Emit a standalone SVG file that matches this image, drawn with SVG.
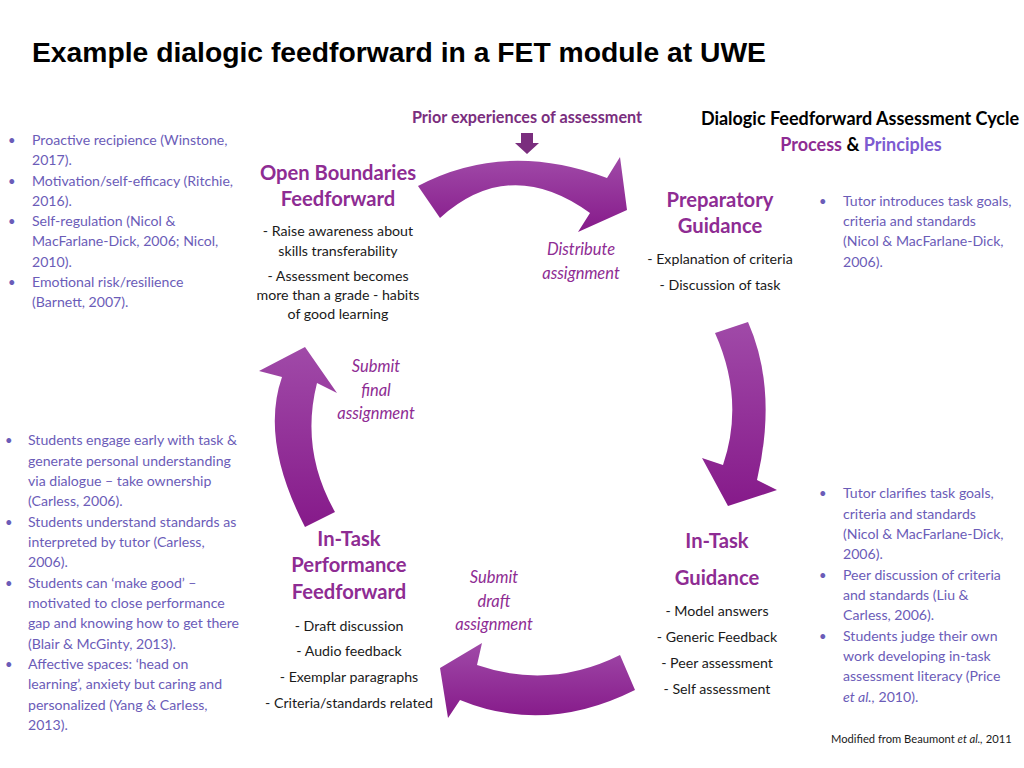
<svg xmlns="http://www.w3.org/2000/svg" width="1024" height="768" viewBox="0 0 1024 768">
<style>
.title{font-family:"Liberation Sans",Arial,sans-serif;font-weight:bold;font-size:28px;fill:#000}
.f{font-family:Lato,"Open Sans",sans-serif}
.head{font-family:Lato,sans-serif;font-weight:bold;font-size:20.2px;fill:#8E2C93;text-anchor:middle}
.body{font-family:Lato,sans-serif;font-size:14.2px;fill:#1a1a1a;text-anchor:middle}
.lab{font-family:Lato,sans-serif;font-style:italic;font-size:16.5px;fill:#8E2C93;text-anchor:middle}
.bul{font-family:Lato,sans-serif;font-size:14.1px;fill:#6B5CB8}
.dot{font-family:Lato,sans-serif;font-size:13px;fill:#6B5CB8}
.arrow{fill:url(#g)}
</style>
<defs>
<linearGradient id="g" x1="0" y1="0" x2="0" y2="1">
<stop offset="0" stop-color="#A04AA8"/>
<stop offset="1" stop-color="#861A8A"/>
</linearGradient>
</defs>
<rect width="1024" height="768" fill="#fff"/>
<text class="title" x="32" y="62" textLength="734" lengthAdjust="spacingAndGlyphs">Example dialogic feedforward in a FET module at UWE</text>

<g id="connectors">
<path class="arrow" d="M418,186 Q505,140 607,178 L620,157 L627,210 L578,232 L590,213 Q510,155 440,218 Z"/>
<path class="arrow" d="M715,333 Q745,400 723,465 L702,458 L728,506 L777,490 L757,480 Q778,390 748,322 Z"/>
<path class="arrow" d="M440,668 L482,643 L477,665 Q550,690 620,655 L635,690 Q545,735 460,700 L448,718 Z"/>
<path class="arrow" d="M305,347 L337,393 L317,383 Q300,450 335,512 L305,527 Q260,440 282,377 L259,371 Z"/>
<path d="M521,133 H533 V143 H539 L527,154 L515,143 H521 Z" fill="#7A2E7E"/>
</g>

<g id="header">
<text class="f" x="527" y="123" text-anchor="middle" font-weight="bold" font-size="16.2" fill="#7A2E7E">Prior experiences of assessment</text>
<text class="f" x="860" y="125" text-anchor="middle" font-weight="bold" font-size="18" fill="#000">Dialogic Feedforward Assessment Cycle</text>
<text class="f" x="861" y="151" text-anchor="middle" font-weight="bold" font-size="18"><tspan fill="#8E2C93">Process</tspan><tspan fill="#000"> &amp; </tspan><tspan fill="#7D5BD1">Principles</tspan></text>
</g>

<g id="open-boundaries">
<text class="head" x="338" y="180">Open Boundaries</text>
<text class="head" x="338" y="206">Feedforward</text>
<text class="body" x="338" y="236">- Raise awareness about</text>
<text class="body" x="338" y="256">skills transferability</text>
<text class="body" x="338" y="281">- Assessment becomes</text>
<text class="body" x="338" y="300">more than a grade - habits</text>
<text class="body" x="338" y="319">of good learning</text>
</g>

<g id="preparatory-guidance">
<text class="head" x="720" y="207">Preparatory</text>
<text class="head" x="720" y="233">Guidance</text>
<text class="body" x="720" y="264">- Explanation of criteria</text>
<text class="body" x="720" y="290">- Discussion of task</text>
</g>

<g id="in-task-guidance">
<text class="head" x="717" y="548">In-Task</text>
<text class="head" x="717" y="585">Guidance</text>
<text class="body" x="717" y="616">- Model answers</text>
<text class="body" x="717" y="642">- Generic Feedback</text>
<text class="body" x="717" y="668">- Peer assessment</text>
<text class="body" x="717" y="694">- Self assessment</text>
</g>

<g id="in-task-performance">
<text class="head" x="349" y="546">In-Task</text>
<text class="head" x="349" y="572">Performance</text>
<text class="head" x="349" y="599">Feedforward</text>
<text class="body" x="349" y="631">- Draft discussion</text>
<text class="body" x="349" y="656">- Audio feedback</text>
<text class="body" x="349" y="682">- Exemplar paragraphs</text>
<text class="body" x="349" y="708">- Criteria/standards related</text>
</g>

<g id="labels">
<text class="lab" x="581" y="255">Distribute</text>
<text class="lab" x="581" y="279">assignment</text>
<text class="lab" x="376" y="372">Submit</text>
<text class="lab" x="376" y="396">final</text>
<text class="lab" x="376" y="419">assignment</text>
<text class="lab" x="494" y="583">Submit</text>
<text class="lab" x="494" y="607">draft</text>
<text class="lab" x="494" y="630">assignment</text>
</g>

<g id="principles-top-left">
<text class="dot" x="8" y="145">•</text>
<text class="dot" x="8" y="186">•</text>
<text class="dot" x="8" y="226">•</text>
<text class="dot" x="8" y="287">•</text>
<text class="bul" x="32" y="145">Proactive recipience (Winstone,</text>
<text class="bul" x="32" y="165">2017).</text>
<text class="bul" x="32" y="186">Motivation/self-efficacy (Ritchie,</text>
<text class="bul" x="32" y="206">2016).</text>
<text class="bul" x="32" y="226">Self-regulation (Nicol &amp;</text>
<text class="bul" x="32" y="246">MacFarlane-Dick, 2006; Nicol,</text>
<text class="bul" x="32" y="267">2010).</text>
<text class="bul" x="32" y="287">Emotional risk/resilience</text>
<text class="bul" x="32" y="307">(Barnett, 2007).</text>
</g>

<g id="principles-bottom-left">
<text class="dot" x="5" y="445">•</text>
<text class="dot" x="5" y="527">•</text>
<text class="dot" x="5" y="588">•</text>
<text class="dot" x="5" y="669">•</text>
<text class="bul" x="28" y="445">Students engage early with task &amp;</text>
<text class="bul" x="28" y="466">generate personal understanding</text>
<text class="bul" x="28" y="486">via dialogue – take ownership</text>
<text class="bul" x="28" y="506">(Carless, 2006).</text>
<text class="bul" x="28" y="527">Students understand standards as</text>
<text class="bul" x="28" y="547">interpreted by tutor (Carless,</text>
<text class="bul" x="28" y="567">2006).</text>
<text class="bul" x="28" y="588">Students can ‘make good’ –</text>
<text class="bul" x="28" y="608">motivated to close performance</text>
<text class="bul" x="28" y="628">gap and knowing how to get there</text>
<text class="bul" x="28" y="649">(Blair &amp; McGinty, 2013).</text>
<text class="bul" x="28" y="669">Affective spaces: ‘head on</text>
<text class="bul" x="28" y="689">learning’, anxiety but caring and</text>
<text class="bul" x="28" y="710">personalized (Yang &amp; Carless,</text>
<text class="bul" x="28" y="730">2013).</text>
</g>

<g id="principles-top-right">
<text class="dot" x="819" y="206">•</text>
<text class="bul" x="843" y="206">Tutor introduces task goals,</text>
<text class="bul" x="843" y="226">criteria and standards</text>
<text class="bul" x="843" y="246">(Nicol &amp; MacFarlane-Dick,</text>
<text class="bul" x="843" y="267">2006).</text>
</g>

<g id="principles-bottom-right">
<text class="dot" x="819" y="498">•</text>
<text class="dot" x="819" y="580">•</text>
<text class="dot" x="819" y="641">•</text>
<text class="bul" x="843" y="498">Tutor clarifies task goals,</text>
<text class="bul" x="843" y="519">criteria and standards</text>
<text class="bul" x="843" y="539">(Nicol &amp; MacFarlane-Dick,</text>
<text class="bul" x="843" y="559">2006).</text>
<text class="bul" x="843" y="580">Peer discussion of criteria</text>
<text class="bul" x="843" y="600">and standards (Liu &amp;</text>
<text class="bul" x="843" y="620">Carless, 2006).</text>
<text class="bul" x="843" y="641">Students judge their own</text>
<text class="bul" x="843" y="661">work developing in-task</text>
<text class="bul" x="843" y="681">assessment literacy (Price</text>
<text class="bul" x="843" y="702"><tspan font-style="italic">et al.,</tspan> 2010).</text>
</g>

<g id="footer">
<text class="f" x="831" y="743" font-size="11.2" fill="#1a1a1a">Modified from Beaumont <tspan font-style="italic">et al.,</tspan> 2011</text>
</g>
</svg>
